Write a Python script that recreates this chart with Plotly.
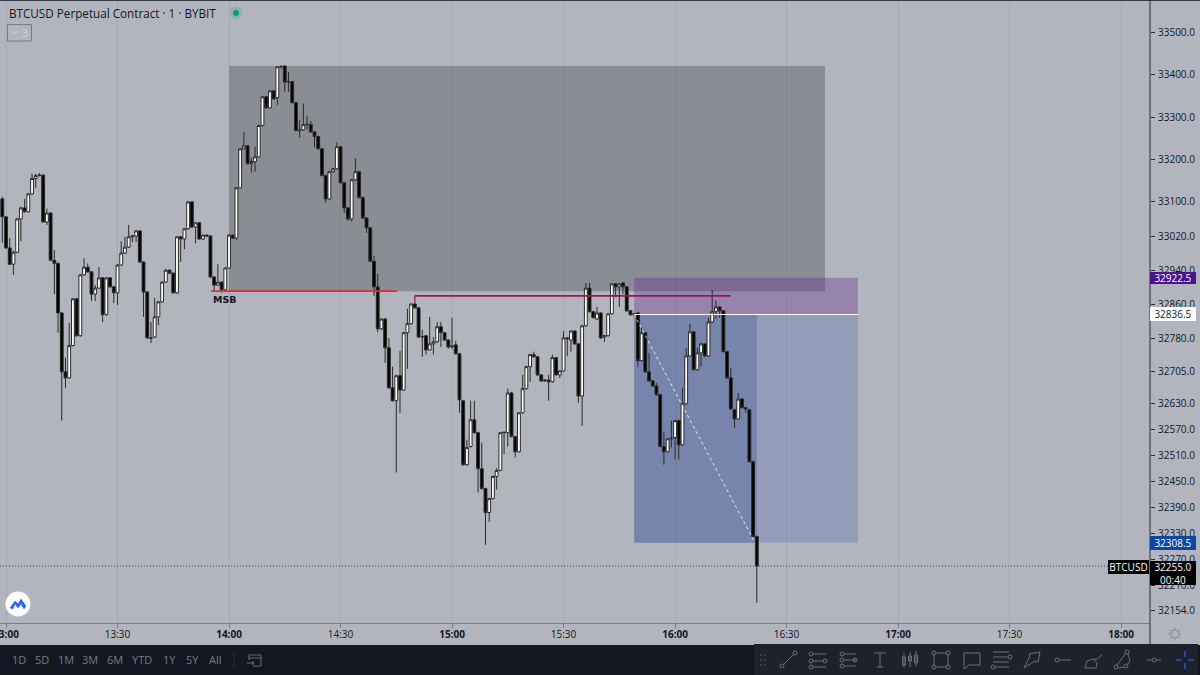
import pandas as pd
import numpy as np
import plotly.graph_objects as go

# one candle per minute, first one is 12:59
opens = [33107,33065,32992,32954,32982,33060,33086,33077,33119,33155,
         33162,33163,33053,33074,32963,32956,32840,32703,32689,32764,
         32873,32787,32929,32947,32936,32884,32898,32922,32836,32922,
         32901,32887,32952,32980,32994,33018,33020,33032,32959,32889,
         32782,32784,32831,32866,32912,32940,32933,32887,33018,33013,
         33037,33100,33041,33051,33013,33022,33020,32924,32905,32912,
         32894,32945,33022,33015,33133,33225,33232,33190,33195,33206,
         33280,33348,33322,33362,33346,33419,33421,33383,33384,33334,
         33268,33270,33282,33282,33265,33254,33225,33162,33107,33171,
         33178,33230,33145,33086,33060,33152,33171,33110,33062,33039,
         32961,32901,32803,32826,32759,32666,32636,32694,32661,32794,
         32815,32861,32852,32784,32787,32754,32768,32773,32808,32794,
         32777,32761,32766,32745,32636,32488,32530,32592,32562,32479,
         32433,32378,32410,32461,32475,32562,32562,32654,32553,32518,
         32608,32664,32715,32743,32738,32696,32682,32684,32680,32736,
         32696,32705,32782,32777,32798,32768,32647,32810,32898,32843,
         32826,32840,32784,32787,32838,32908,32901,32910,32901,32845,
         32836,32840,32729,32794,32703,32682,32670,32650,32530,32518,
         32548,32551,32590,32534,32629,32740,32796,32708,32747,32768,
         32740,32819,32843,32854,32845,32750,32689,32615,32594,32640,
         32620,32615,32495,32323]
highs = [33112,33065,33015,32985,33062,33088,33107,33120,33166,33166,
         33168,33165,33084,33076,32987,32958,32842,32736,32817,32875,
         32875,32931,32968,32956,32938,32905,32947,32924,32924,32924,
         32903,32954,33008,33018,33046,33022,33034,33034,32961,32891,
         32819,32875,32868,32914,32942,32942,32935,33020,33020,33039,
         33102,33102,33053,33053,33024,33024,33022,32926,32954,32914,
         32947,33024,33024,33135,33227,33265,33234,33204,33230,33282,
         33350,33350,33364,33364,33421,33423,33423,33407,33386,33336,
         33294,33332,33303,33291,33267,33256,33227,33164,33173,33180,
         33240,33232,33147,33088,33154,33202,33173,33112,33064,33041,
         32973,32931,32828,32828,32782,32715,32696,32752,32796,32850,
         32863,32863,32854,32801,32789,32831,32784,32819,32819,32796,
         32779,32829,32775,32747,32638,32546,32636,32636,32564,32539,
         32435,32412,32463,32480,32564,32564,32664,32656,32555,32610,
         32696,32717,32745,32750,32740,32698,32686,32696,32743,32738,
         32707,32798,32784,32800,32800,32770,32812,32910,32910,32845,
         32854,32842,32789,32840,32910,32910,32910,32912,32903,32847,
         32840,32842,32808,32796,32747,32684,32677,32652,32564,32550,
         32590,32592,32592,32666,32759,32815,32798,32759,32770,32770,
         32829,32894,32870,32856,32847,32752,32712,32617,32654,32642,
         32622,32617,32497,32325]
lows = [33004,32990,32952,32929,32980,33008,33075,33075,33117,33133,
        33160,33051,33046,32961,32884,32794,32590,32666,32687,32762,
        32785,32785,32927,32934,32868,32868,32896,32819,32834,32899,
        32863,32859,32950,32978,32992,33006,33006,32957,32831,32780,
        32770,32782,32812,32864,32910,32931,32885,32885,32959,32989,
        33035,33039,33003,33011,33011,33018,32922,32889,32903,32887,
        32892,32943,33013,33011,33131,33223,33188,33169,33171,33204,
        33278,33320,33320,33341,33329,33415,33360,33360,33332,33266,
        33251,33268,33270,33263,33228,33223,33160,33098,33105,33169,
        33176,33143,33074,33056,33054,33150,33108,33060,33027,32959,
        32880,32795,32801,32724,32664,32634,32470,32608,32659,32710,
        32813,32850,32782,32738,32743,32752,32743,32771,32761,32775,
        32757,32757,32743,32608,32486,32486,32528,32560,32424,32431,
        32304,32357,32408,32431,32473,32512,32530,32551,32505,32516,
        32606,32662,32680,32736,32694,32680,32680,32636,32678,32694,
        32689,32703,32740,32750,32766,32631,32578,32808,32841,32827,
        32824,32780,32773,32785,32836,32877,32854,32884,32843,32834,
        32832,32715,32727,32701,32680,32668,32648,32528,32488,32516,
        32528,32500,32500,32532,32627,32738,32706,32706,32715,32738,
        32738,32817,32826,32829,32748,32687,32615,32574,32592,32618,
        32608,32493,32321,32171]
closes = [33065,32992,32954,32982,33060,33086,33077,33119,33155,33162,
          33163,33053,33074,32963,32956,32840,32703,32689,32764,32873,
          32787,32929,32947,32936,32884,32898,32922,32836,32922,32901,
          32887,32952,32980,32994,33018,33020,33032,32959,32889,32782,
          32781,32831,32866,32912,32940,32933,32887,33018,33013,33037,
          33100,33041,33051,33013,33022,33020,32924,32905,32912,32894,
          32945,33022,33015,33133,33225,33232,33190,33195,33206,33280,
          33348,33322,33362,33343,33419,33420,33383,33384,33334,33268,
          33269,33282,33283,33265,33254,33225,33162,33107,33171,33178,
          33230,33145,33086,33060,33152,33171,33110,33062,33039,32961,
          32901,32803,32826,32759,32666,32636,32694,32661,32794,32815,
          32861,32852,32784,32785,32754,32768,32773,32808,32794,32777,
          32761,32763,32745,32638,32488,32528,32592,32562,32479,32433,
          32378,32410,32461,32475,32562,32563,32654,32553,32518,32608,
          32664,32715,32743,32738,32696,32682,32684,32680,32736,32696,
          32705,32782,32780,32798,32768,32647,32810,32898,32843,32829,
          32840,32782,32787,32838,32908,32901,32908,32901,32845,32836,
          32838,32729,32794,32703,32682,32670,32650,32530,32518,32548,
          32549,32590,32534,32629,32740,32796,32708,32747,32768,32740,
          32819,32843,32854,32845,32750,32689,32617,32594,32640,32620,
          32617,32495,32323,32255]

price_ticks = [33500, 33400, 33300, 33200, 33100, 33020, 32940, 32860, 32780,
               32705, 32630, 32570, 32510, 32450, 32390, 32330, 32270, 32210, 32154]
time_ticks = ["13:00", "13:30", "14:00", "14:30", "15:00", "15:30", "16:00",
              "16:30", "17:00", "17:30", "18:00"]
range_buttons = ["1D", "5D", "1M", "3M", "6M", "YTD", "1Y", "5Y", "All"]

day = "2021-06-20 "
times = pd.date_range(day + "12:59", periods=len(opens), freq="min")

bg = "#b2b5be"
dark = "#131722"
panel = "#1e222d"
icon = "#6b6f7b"
font = "Open Sans"

# plot area is 1150 x 623 px, everything decorative is placed in page pixels
def px(x):
    return x / 1150

def py(y):
    return 1 - y / 623

shapes = []

def data_rect(t0, t1, p0, p1, fill, layer="below"):
    shapes.append(dict(type="rect", xref="x", yref="y", x0=day + t0, x1=day + t1, y0=p0, y1=p1,
                       fillcolor=fill, line_width=0, layer=layer))

def data_line(t0, t1, p0, p1, color, width=1, dash="solid"):
    shapes.append(dict(type="line", xref="x", yref="y", x0=day + t0, x1=day + t1, y0=p0, y1=p1,
                       line=dict(color=color, width=width, dash=dash), layer="above"))

def box(x0, y0, x1, y1, fill, line=None, width=1):
    shapes.append(dict(type="rect", xref="paper", yref="paper", x0=px(x0), x1=px(x1), y0=py(y0), y1=py(y1),
                       fillcolor=fill, line=dict(color=line or fill, width=width if line else 0), layer="above"))

def poly(points, color=icon, width=1, close=False, fill=None):
    d = "M " + " L ".join(f"{px(x):.5f} {py(y):.5f}" for x, y in points) + (" Z" if close else "")
    shapes.append(dict(type="path", xref="paper", yref="paper", path=d, line=dict(color=color, width=width),
                       fillcolor=fill or "rgba(0,0,0,0)", layer="above"))

def ring(cx, cy, r=2, color=icon, fill="rgba(0,0,0,0)", width=1):
    shapes.append(dict(type="circle", xref="paper", yref="paper", x0=px(cx - r), x1=px(cx + r),
                       y0=py(cy - r), y1=py(cy + r), fillcolor=fill, line=dict(color=color, width=width), layer="above"))

# drawings on the chart
data_rect("14:00", "16:40:20", 32891, 33421, "rgba(0,0,0,0.22)")
data_rect("15:49", "16:49:13", 32836.5, 32922.5, "rgba(100,40,140,0.35)")
data_rect("15:49", "16:49:13", 32308.5, 32836.5, "rgba(60,90,170,0.25)")
data_rect("15:49", "16:22", 32308.5, 32836.5, "rgba(30,60,140,0.25)")
data_line("15:49", "16:49:13", 32836.5, 32836.5, "white", 1.2)
data_line("15:49", "16:21:30", 32836.5, 32308.5, "rgba(255,255,255,0.8)", 1, "dot")
data_line("13:55:09", "14:45:12", 32891, 32891, "#f0282d", 1.6)
data_line("14:50", "16:15", 32880, 32880, "#9c1458", 1.6)
data_line("14:50", "14:50", 32880, 32861, "#9c1458", 1.2)
shapes.append(dict(type="line", xref="paper", yref="y", x0=0, x1=px(1108), y0=32255, y1=32255,
                   line=dict(color="#2a2e39", width=0.8, dash="1px,2px"), layer="above"))

# frame bits
box(0, -1, 1200, 1, "#3a3e49")
box(0, 645, 1200, 675, dark)
box(754, 644, 1198, 675, panel)
poly([(1150, 0), (1150, 645)], "#2a2e39", 1)
poly([(234, 652), (234, 668)], "#2a2e39", 1)

# status dot and collapsed indicator box
ring(236, 13, 6.5, "rgba(8,153,129,0.2)", "rgba(8,153,129,0.2)", 0)
ring(236, 13, 3, "#089981", "#089981", 0)
box(7.5, 24.5, 31.5, 41, "rgba(0,0,0,0)", "#787b86", 1)
poly([(12, 31), (15, 34), (18, 31)], "#d1d4dc", 1)

# exchange logo
ring(18, 604, 12.5, "white", "white", 0)
poly([(10, 608), (15, 601), (18, 604), (21, 599), (26, 606), (24, 609), (21, 604), (18, 608), (15, 604), (13, 609)],
     "#2962ff", 0.5, True, "#2962ff")

# gear in the corner
ring(1175, 634, 4, "#8a8d96", width=1)
for a in range(0, 360, 45):
    c, s = np.cos(np.radians(a)), np.sin(np.radians(a))
    poly([(1175 + 4 * c, 634 + 4 * s), (1175 + 6.5 * c, 634 + 6.5 * s)], "#8a8d96", 1)

# calendar icon next to the range buttons
poly([(249, 655), (261, 655), (261, 666), (253, 666)], icon)
poly([(249, 655), (249, 660)], icon)
poly([(249, 658), (261, 658)], icon)
poly([(247, 663), (254, 663)], icon)
poly([(252, 661), (254, 663), (252, 665)], icon)

# drawing toolbar icons
for gx in (761, 765):
    for gy in (655, 660, 665):
        ring(gx, gy, 0.5, "#4a4e5a", "#4a4e5a")
ring(782, 666); ring(795, 653); poly([(783.5, 664.5), (793.5, 654.5)])
for gy, x1 in ((654, 826), (661, 824), (667, 826)):
    ring(811, gy); poly([(813, gy), (x1, gy)])
ring(825, 661)
for gy, x1 in ((654, 856), (660, 856), (666, 856)):
    ring(842, gy); poly([(844, gy), (x1, gy)])
ring(855, 660)
poly([(874, 653), (886, 653)]); poly([(880, 653), (880, 667)]); poly([(877, 667), (883, 667)])
for cx, b0, b1, w0, w1 in ((904, 657, 665, 653, 668), (910, 656, 661, 652, 667), (916, 655, 663, 651, 666)):
    poly([(cx, w0), (cx, w1)])
    poly([(cx - 1.5, b0), (cx + 1.5, b0), (cx + 1.5, b1), (cx - 1.5, b1)], icon, 1, True)
poly([(934, 653), (948, 653), (948, 667), (934, 667)], icon, 1, True)
for cx, cy in ((934, 653), (948, 653), (934, 667), (948, 667)):
    ring(cx, cy, 2, icon, panel)
poly([(964, 653), (980, 653), (980, 665), (969, 665), (964, 669)], icon, 1, True)
poly([(993, 652), (1009, 652)]); poly([(993, 657), (1007, 657)]); ring(1010, 657)
poly([(993, 662), (1009, 662)]); ring(993, 667); poly([(995, 667), (1009, 667)])
poly([(1024, 668), (1030, 656), (1029, 654), (1040, 652), (1038, 662), (1035, 661)], icon, 1, True)
ring(1057, 660); poly([(1059, 660), (1071, 660)])
poly([(1085, 668), (1087, 661), (1093, 659), (1097, 663), (1096, 668)], icon, 1, True)
poly([(1094, 658), (1096, 660), (1102, 655)])
ring(1116, 667); ring(1127, 652); ring(1126, 666)
poly([(1117, 665), (1126, 653)]); poly([(1128, 654), (1130, 661), (1127, 665)]); poly([(1118, 668), (1124, 667)])
poly([(1147, 660), (1161, 660)]); ring(1154, 660, 2, icon, panel)
for p0, p1 in (((1185, 651), (1185, 657)), ((1185, 663), (1185, 669)), ((1176, 660), (1182, 660)), ((1188, 660), (1194, 660))):
    poly([p0, p1], "#2962ff", 1.2)

annotations = [
    dict(x=px(7), y=py(13), text="BTCUSD Perpetual Contract · 1 · BYBIT", xanchor="left",
         font=dict(family=font, size=11.7, color=dark)),
    dict(x=px(25), y=py(33), text="3", font=dict(family=font, size=10, color="#d1d4dc")),
    dict(x=px(225), y=py(299), text="<b>MSB</b>", font=dict(family="DejaVu Sans", size=9.5, color=dark)),
]
button_x = [19, 42, 66, 90, 115, 142, 169, 192, 215]
for label, bx in zip(range_buttons, button_x):
    annotations.append(dict(x=px(bx), y=py(660), text=label, font=dict(family=font, size=11, color="#787b86")))
# price tags on the right
tags = [(272, 284, "32922.5", "#4a148c", "white"), (307, 321, "32836.5", "white", dark),
        (536, 550, "32308.5", "#0d47a1", "white"), (561, 585, "32255.0<br>00:40", "black", "white")]
for y0, y1, label, fill, color in tags:
    annotations.append(dict(x=px(1150), y=py(y0), text=label, xanchor="left", yanchor="top", align="center",
                            width=46, height=y1 - y0, bgcolor=fill, borderpad=0, borderwidth=0,
                            font=dict(family=font, size=10, color=color)))
annotations.append(dict(x=px(1108), y=py(560), text="BTCUSD", xanchor="left", yanchor="top", align="center",
                        width=41, height=14, bgcolor="black", borderpad=0, borderwidth=0,
                        font=dict(family=font, size=10, color="white")))
for a in annotations:
    a.update(xref="paper", yref="paper", showarrow=False)
    a.setdefault("xanchor", "center")
    a.setdefault("yanchor", "middle")

fig = go.Figure(go.Candlestick(
    x=times, open=opens, high=highs, low=lows, close=closes,
    increasing=dict(fillcolor="white", line=dict(color="#2a2a2a", width=1)),
    decreasing=dict(fillcolor="black", line=dict(color="#2a2a2a", width=1)),
    hoverinfo="skip", showlegend=False,
))

fig.update_layout(
    width=1200, height=675,
    margin=dict(l=0, r=50, t=0, b=52),
    paper_bgcolor=bg, plot_bgcolor=bg,
    showlegend=False,
    boxgap=0.1, boxgroupgap=0.15,
    shapes=shapes, annotations=annotations,
)
fig.update_xaxes(
    automargin=False,
    rangeslider_visible=False,
    range=[day[:-1] + " 12:58:23", day[:-1] + " 18:07:47"],
    tickmode="array",
    tickvals=[day + t for t in time_ticks],
    ticktext=[f"<b>{t}</b>" if t.endswith("00") else t for t in time_ticks],
    tickfont=dict(family=font, size=10, color=dark),
    ticks="outside", ticklen=4, tickcolor="#787b86", ticklabeloverflow="allow",
    ticklabelstandoff=-2,
    showline=True, linecolor="#787b86", linewidth=1,
    showgrid=True, gridcolor="rgba(42,46,57,0.08)", gridwidth=1, zeroline=False,
)
fig.update_yaxes(
    automargin=False,
    type="log", side="right",
    range=[np.log10(32125), np.log10(33578)],
    tickmode="array",
    tickvals=price_ticks,
    ticktext=[f"{p:.1f}" for p in price_ticks],
    tickfont=dict(family=font, size=10, color=dark),
    ticks="outside", ticklen=4, tickcolor="#2a2e39", ticklabelstandoff=1,
    showline=False, showgrid=False, zeroline=False,
)

# page margin off so the figure sits at the window corner
fig.write_html("out.html", config={"displayModeBar": False},
               post_script="document.body.style.margin='0';")
